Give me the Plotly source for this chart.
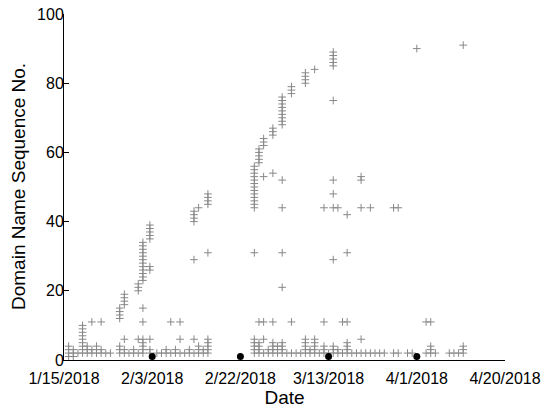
import pandas as pd
import plotly.graph_objects as go

# query dates (one entry per column of points) and the sequence numbers seen that day
query_dates = [
    '2018-01-16', '2018-01-17', '2018-01-18', '2018-01-19', '2018-01-20',
    '2018-01-21', '2018-01-22', '2018-01-23', '2018-01-24', '2018-01-25',
    '2018-01-27', '2018-01-28', '2018-01-29', '2018-01-30', '2018-01-31',
    '2018-02-01', '2018-02-02 12:00', '2018-02-04', '2018-02-05', '2018-02-06',
    '2018-02-07', '2018-02-08', '2018-02-09', '2018-02-10', '2018-02-11',
    '2018-02-12', '2018-02-13', '2018-02-14', '2018-02-15',
    '2018-02-25', '2018-02-26', '2018-02-27', '2018-02-28', '2018-03-01',
    '2018-03-02', '2018-03-03', '2018-03-04', '2018-03-05', '2018-03-06',
    '2018-03-07', '2018-03-08', '2018-03-09', '2018-03-10', '2018-03-11',
    '2018-03-12', '2018-03-13', '2018-03-14', '2018-03-15', '2018-03-16',
    '2018-03-17', '2018-03-18', '2018-03-19', '2018-03-20', '2018-03-21',
    '2018-03-22', '2018-03-23', '2018-03-24', '2018-03-25', '2018-03-27',
    '2018-03-28', '2018-03-30', '2018-03-31', '2018-04-01', '2018-04-03',
    '2018-04-04', '2018-04-05', '2018-04-08', '2018-04-09', '2018-04-10',
    '2018-04-11',
]

sequence_nos = [
    [1, 2, 3, 4], [1, 2, 3], [2], [2, 3, 4, 5, 6, 7, 8, 9, 10], [2, 3, 4],
    [11, 2, 3], [2, 3, 4], [11, 2, 3], [2], [2],
    [12, 13, 14, 15, 2, 3, 4], [16, 17, 18, 19, 2, 3, 6], [2], [2, 3], [20, 21, 22, 2, 6],
    [23, 24, 25, 26, 27, 28, 29, 30, 31, 32, 33, 34, 15, 11, 6, 2, 3, 4, 5],
    [35, 36, 37, 38, 39, 26, 27, 6, 2, 3], [2], [2], [2, 3],
    [2, 11], [2, 3], [11, 6, 2], [2], [2, 3],
    [40, 41, 42, 43, 29, 6, 2], [44, 2, 3, 4], [2, 3], [45, 46, 47, 48, 31, 2, 3, 4, 5, 6],
    [44, 45, 46, 47, 48, 49, 50, 51, 52, 53, 54, 55, 56, 31, 2, 3, 4, 5, 6],
    [57, 58, 59, 60, 61, 11, 2, 3, 4, 5], [62, 63, 64, 53, 11, 2, 6], [2, 3],
    [65, 66, 67, 54, 11, 2, 3, 4, 5],
    [2, 3, 4], [68, 69, 70, 71, 72, 73, 74, 75, 76, 52, 44, 31, 21, 2, 3, 4, 5], [2],
    [77, 78, 79, 11, 2], [2],
    [2], [80, 81, 82, 83, 2, 3, 4, 5, 6], [2, 3], [84, 2, 3, 4, 5, 6], [2],
    [44, 11, 2, 3, 4], [2], [85, 86, 87, 88, 89, 75, 52, 48, 44, 29, 2, 3, 4],
    [44, 2, 3], [11, 2],
    [42, 31, 11, 2, 3, 4, 5], [2], [2], [52, 53, 44, 6, 2], [2],
    [44, 2], [2], [2], [2], [44, 2],
    [44, 2], [2], [2], [90], [11, 2],
    [11, 2, 3, 4], [2], [2], [2], [2],
    [91, 2, 3, 4],
]

# probe dates marked with a dot just above the axis
probe_dates = ['2018-02-03', '2018-02-22', '2018-03-13', '2018-04-01']
probe_values = [1, 1, 1, 1]

tick_dates = ['2018-01-15', '2018-02-03', '2018-02-22', '2018-03-13', '2018-04-01', '2018-04-20']
tick_labels = ['1/15/2018', '2/3/2018', '2/22/2018', '3/13/2018', '4/1/2018', '4/20/2018']


def build_table(dates, values):
    rows = []
    for d, vals in zip(dates, values):
        for v in vals:
            rows.append({'date': pd.Timestamp(d), 'seq': v})
    return pd.DataFrame(rows)


def main():
    df = build_table(query_dates, sequence_nos)

    fig = go.Figure()
    fig.add_trace(go.Scatter(
        x=df['date'], y=df['seq'],
        mode='markers',
        marker=dict(symbol='cross-thin', size=5.5, line=dict(width=1, color='#888888')),
        showlegend=False
    ))
    fig.add_trace(go.Scatter(
        x=pd.to_datetime(probe_dates), y=probe_values,
        mode='markers',
        marker=dict(symbol='circle', size=7, color='black'),
        showlegend=False,
        cliponaxis=False
    ))

    axis_font = dict(family='Liberation Sans, Arial', size=16, color='black')
    fig.update_layout(
        width=550, height=412,
        paper_bgcolor='white', plot_bgcolor='white',
        margin=dict(l=64, r=45, t=14, b=52),
        font=dict(family='Liberation Sans, Arial', color='black'),
        xaxis=dict(
            type='date',
            range=['2018-01-15', '2018-04-20'],
            tickmode='array',
            tickvals=tick_dates,
            ticktext=tick_labels,
            ticks='inside', ticklen=5, tickcolor='black',
            showline=True, linecolor='black', linewidth=1,
            showgrid=False, zeroline=False,
            tickfont=axis_font,
            ticklabelstandoff=4,
            ticklabeloverflow='allow',
            automargin=False,
            title=dict(text='Date', font=dict(size=19), standoff=0),
        ),
        yaxis=dict(
            range=[0, 100],
            tickmode='array',
            tickvals=[0, 20, 40, 60, 80, 100],
            ticks='inside', ticklen=5, tickcolor='black',
            showline=True, linecolor='black', linewidth=1,
            showgrid=False, zeroline=False,
            tickfont=axis_font,
            ticklabelstandoff=-4,
            ticklabeloverflow='allow',
            automargin=False,
        ),
    )
    fig.add_annotation(
        text='Domain Name Sequence No.',
        xref='paper', yref='paper', x=0, y=0.5,
        xshift=-46, textangle=-90,
        xanchor='center', yanchor='middle',
        showarrow=False, font=dict(size=19),
    )
    # drop the default body margin so the figure sits at the window's corner
    fig.write_html('out.html', config={'displayModeBar': False},
                   post_script="document.body.style.margin='0';")


if __name__ == '__main__':
    main()
